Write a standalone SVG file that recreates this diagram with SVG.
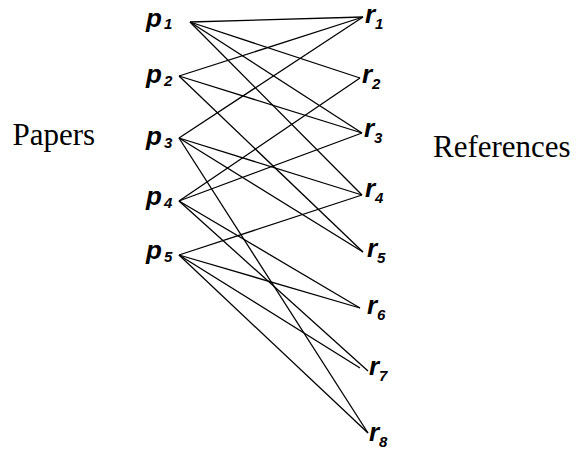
<svg xmlns="http://www.w3.org/2000/svg" width="576" height="451" viewBox="0 0 576 451">
<style>
.lbl{font-family:"Liberation Sans",Arial,sans-serif;font-weight:bold;font-style:italic;font-size:26px;fill:#000}
.sub{font-size:15px}
.big{font-family:"Liberation Serif","Times New Roman",serif;font-size:31px;fill:#000}
#edges line{stroke:#000;stroke-width:1.3;fill:none}
</style>
<rect width="576" height="451" fill="#fff"/>
<g id="edges">
<line x1="190" y1="22" x2="363" y2="17"/>
<line x1="190" y1="22" x2="360" y2="78"/>
<line x1="190" y1="22" x2="362" y2="133"/>
<line x1="190" y1="22" x2="362" y2="195"/>
<line x1="179" y1="76" x2="363" y2="17"/>
<line x1="179" y1="76" x2="362" y2="133"/>
<line x1="179" y1="76" x2="363" y2="252"/>
<line x1="179" y1="138" x2="363" y2="17"/>
<line x1="179" y1="138" x2="362" y2="195"/>
<line x1="179" y1="138" x2="363" y2="252"/>
<line x1="179" y1="138" x2="368" y2="433"/>
<line x1="179" y1="201" x2="360" y2="78"/>
<line x1="179" y1="201" x2="362" y2="133"/>
<line x1="179" y1="201" x2="360" y2="308"/>
<line x1="179" y1="201" x2="368" y2="371"/>
<line x1="179" y1="255" x2="362" y2="195"/>
<line x1="179" y1="255" x2="360" y2="308"/>
<line x1="179" y1="255" x2="360" y2="368"/>
<line x1="179" y1="255" x2="368" y2="433"/>
</g>
<g id="papers"><text class="big" x="12.5" y="145">Papers</text></g>
<g id="references"><text class="big" x="433" y="157">References</text></g>
<g id="p1"><text class="lbl" x="146" y="27">p<tspan class="sub" x="164" y="29">1</tspan></text></g>
<g id="p2"><text class="lbl" x="146" y="83">p<tspan class="sub" x="164" y="86">2</tspan></text></g>
<g id="p3"><text class="lbl" x="146" y="145">p<tspan class="sub" x="164" y="148">3</tspan></text></g>
<g id="p4"><text class="lbl" x="146" y="205">p<tspan class="sub" x="164" y="208">4</tspan></text></g>
<g id="p5"><text class="lbl" x="146" y="259">p<tspan class="sub" x="164" y="262">5</tspan></text></g>
<g id="r1"><text class="lbl" x="365" y="23">r<tspan class="sub" x="375" y="29">1</tspan></text></g>
<g id="r2"><text class="lbl" x="362" y="83">r<tspan class="sub" x="372" y="89">2</tspan></text></g>
<g id="r3"><text class="lbl" x="364" y="137">r<tspan class="sub" x="374" y="143">3</tspan></text></g>
<g id="r4"><text class="lbl" x="365" y="197">r<tspan class="sub" x="375" y="203">4</tspan></text></g>
<g id="r5"><text class="lbl" x="367" y="257">r<tspan class="sub" x="377" y="263">5</tspan></text></g>
<g id="r6"><text class="lbl" x="367" y="314">r<tspan class="sub" x="377" y="320">6</tspan></text></g>
<g id="r7"><text class="lbl" x="369" y="375">r<tspan class="sub" x="379" y="381">7</tspan></text></g>
<g id="r8"><text class="lbl" x="369" y="441">r<tspan class="sub" x="379" y="447">8</tspan></text></g>
</svg>
